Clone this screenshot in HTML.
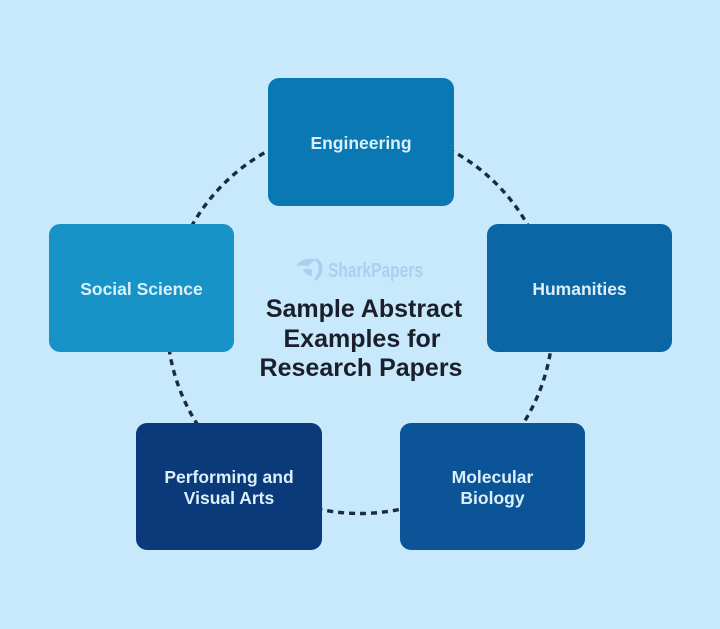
<!DOCTYPE html>
<html>
<head>
<meta charset="utf-8">
<style>
  html, body { margin: 0; padding: 0; background: #c8e8fc; }
  body { width: 720px; height: 629px; overflow: hidden; }
  svg { display: block; }
  .lbl { font-family: "Liberation Sans", sans-serif; font-weight: bold; font-size: 17.5px; fill: #dcf0fb; text-anchor: middle; }
  .ttl { font-family: "Liberation Sans", sans-serif; font-weight: bold; font-size: 25px; fill: #1a1f2b; text-anchor: middle; }
</style>
</head>
<body>
<svg width="720" height="629" viewBox="0 0 720 629" xmlns="http://www.w3.org/2000/svg">
  <rect x="0" y="0" width="720" height="629" fill="#c8e8fc"/>
  <!-- dashed circle -->
  <circle cx="360" cy="320.5" r="193" fill="none" stroke="#1c2b3c" stroke-width="3.4" stroke-dasharray="6 5"/>

  <!-- watermark -->
  <g fill="#a9d1ef">
    <path d="M296 266 C300 259 310 257 316 260 C312 262 309 264 308 267 C306 265 301 265 296 266 Z"/>
    <path d="M303 270 C306 268 310 268 312 270 L312 276 C308 276 305 274 303 270 Z"/>
    <path d="M317 258 C324 262 325 274 316 281 L314 279 C320 273 320 265 315 260 Z"/>
  </g>
  <text x="328" y="277" font-family="Liberation Sans, sans-serif" font-size="20" font-weight="bold" fill="#a9d1ef" textLength="95" lengthAdjust="spacingAndGlyphs">SharkPapers</text>

  <!-- title -->
  <text class="ttl" x="364" y="317">Sample Abstract</text>
  <text class="ttl" x="362" y="347">Examples for</text>
  <text class="ttl" x="361" y="376">Research Papers</text>

  <!-- boxes -->
  <rect x="268" y="78" width="186" height="128" rx="11" fill="#0a78b2"/>
  <text class="lbl" x="361" y="149">Engineering</text>

  <rect x="49" y="224" width="185" height="128" rx="11" fill="#1893c7"/>
  <text class="lbl" x="141.5" y="295">Social Science</text>

  <rect x="487" y="224" width="185" height="128" rx="11" fill="#0a66a4"/>
  <text class="lbl" x="579.5" y="295">Humanities</text>

  <rect x="136" y="423" width="186" height="127" rx="11" fill="#0b3a7b"/>
  <text class="lbl" x="229" y="483">Performing and</text>
  <text class="lbl" x="229" y="504">Visual Arts</text>

  <rect x="400" y="423" width="185" height="127" rx="11" fill="#0a5497"/>
  <text class="lbl" x="492.5" y="483">Molecular</text>
  <text class="lbl" x="492.5" y="504">Biology</text>
</svg>
</body>
</html>
